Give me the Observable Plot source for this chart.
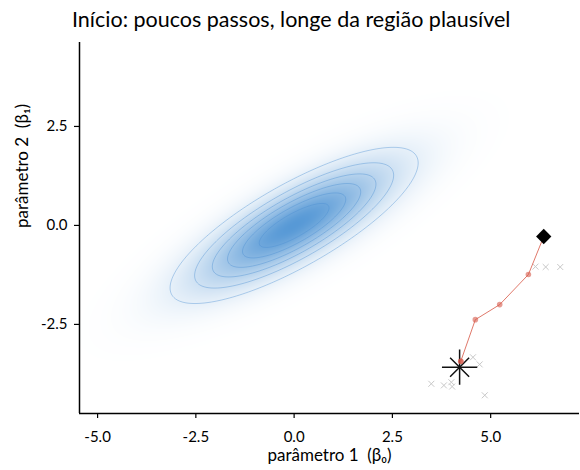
<!DOCTYPE html>
<html>
<head>
<meta charset="utf-8">
<script src="https://cdn.jsdelivr.net/npm/d3@7"></script>
<script src="https://cdn.jsdelivr.net/npm/@observablehq/plot@0.6"></script>
<style>
  body { margin: 0; background: #fff; font-family: Lato, "Open Sans", sans-serif; }
  #title { height: 40px; box-sizing: border-box; padding-left: 72px; padding-top: 5px; font-size: 21.5px; line-height: 28px; color: #000; white-space: nowrap; }
</style>
</head>
<body>
<div id="title">Início: poucos passos, longe da região plausível</div>
<div id="chart"></div>
<script>
// Target posterior (bivariate normal) parameters
const postMean = [0, 0];
const postSd = [1.6, 1.0];
const postRho = 0.8;
// contour levels as fraction of peak density
const contourLevels = [0.143, 0.286, 0.429, 0.571, 0.714, 0.857];

// Chain path (accepted steps), from start to current
const pathX = [4.24, 4.24, 4.61, 5.23, 5.96, 6.35];
const pathY = [-3.43, -3.43, -2.38, -2.00, -1.24, -0.28];
// Rejected proposals
const rejX = [6.14, 6.40, 6.77, 4.55, 4.72, 3.49, 3.81, 4.00, 4.02, 4.85];
const rejY = [-1.04, -1.05, -1.05, -3.33, -3.51, -4.00, -4.04, -3.96, -4.07, -4.29];
// Start point and current point
const startX = [4.21], startY = [-3.58];
const currX = [6.35], currY = [-0.28];

const xDomain = [-5.46, 7.26];
const yDomain = [-4.75, 4.62];
const xTicks = [-5, -2.5, 0, 2.5, 5];
const yTicks = [-2.5, 0, 2.5];
const xLabel = "parâmetro 1\u00a0\u00a0(β₀)";
const yLabel = "parâmetro 2\u00a0\u00a0(β₁)";

function dens(x, y) {
  const zx = (x - postMean[0]) / postSd[0];
  const zy = (y - postMean[1]) / postSd[1];
  const q = (zx * zx - 2 * postRho * zx * zy + zy * zy) / (1 - postRho * postRho);
  return Math.exp(-q / 2);
}

const pathData = pathX.map((x, i) => ({x, y: pathY[i]}));
const rejData = rejX.map((x, i) => ({x, y: rejY[i]}));
const startData = startX.map((x, i) => ({x, y: startY[i]}));
const currData = currX.map((x, i) => ({x, y: currY[i]}));
const bounds = {x1: xDomain[0], x2: xDomain[1], y1: yDomain[0], y2: yDomain[1]};

const fmt = d => d.toFixed(1);

const plot = Plot.plot({
  width: 580,
  height: 430,
  marginTop: 2,
  marginBottom: 57,
  marginLeft: 79,
  marginRight: 1,
  style: {fontFamily: "Lato, 'Open Sans', sans-serif", fontSize: "15px", color: "#000", background: "#fff"},
  x: {domain: xDomain},
  y: {domain: yDomain},
  color: {type: "linear", domain: [0, 1], range: ["#ffffff", "#5799d6"], interpolate: "rgb"},
  marks: [
    Plot.raster({...bounds, fill: dens, pixelSize: 1}),
    Plot.contour({...bounds, value: dens, thresholds: contourLevels, fill: "none", stroke: "#4a8fd2", strokeOpacity: 0.5, strokeWidth: 0.8, pixelSize: 1}),
    Plot.dot(rejData, {x: "x", y: "y", symbol: "times", r: 2.8, stroke: "#c8c8c8", strokeWidth: 1}),
    Plot.dot(startData, {x: "x", y: "y", symbol: "plus", r: 11.4, stroke: "#111", strokeWidth: 1.5}),
    Plot.dot(startData, {x: "x", y: "y", symbol: "times", r: 8.7, stroke: "#111", strokeWidth: 1.5}),
    Plot.line(pathData, {x: "x", y: "y", stroke: "#e0796b", strokeWidth: 1}),
    Plot.dot(pathData.slice(0, pathData.length - 1), {x: "x", y: "y", r: 2.8, fill: "#d6584a", fillOpacity: 0.6, stroke: "none"}),
    Plot.dot(currData, {x: "x", y: "y", symbol: "diamond2", r: 6.9, fill: "#000"}),
    Plot.ruleX([xDomain[0]], {stroke: "#000", strokeWidth: 1.5}),
    Plot.ruleY([yDomain[0]], {stroke: "#000", strokeWidth: 1.5}),
    Plot.axisX({ticks: xTicks, tickFormat: fmt, tickSize: 5, tickPadding: 13, label: null, stroke: "#000", strokeWidth: 1.2}),
    Plot.axisY({ticks: yTicks, tickFormat: fmt, tickSize: 5, tickPadding: 7, label: null, stroke: "#000", strokeWidth: 1.2}),
    Plot.text([xLabel], {text: d => d, frameAnchor: "bottom", dy: 42, fontSize: 17, lineAnchor: "middle", fill: "#000"}),
    Plot.text([yLabel], {text: d => d, frameAnchor: "left", dx: -57, rotate: -90, fontSize: 17, lineAnchor: "middle", fill: "#000"})
  ]
});
document.getElementById("chart").appendChild(plot);
</script>
</body>
</html>
